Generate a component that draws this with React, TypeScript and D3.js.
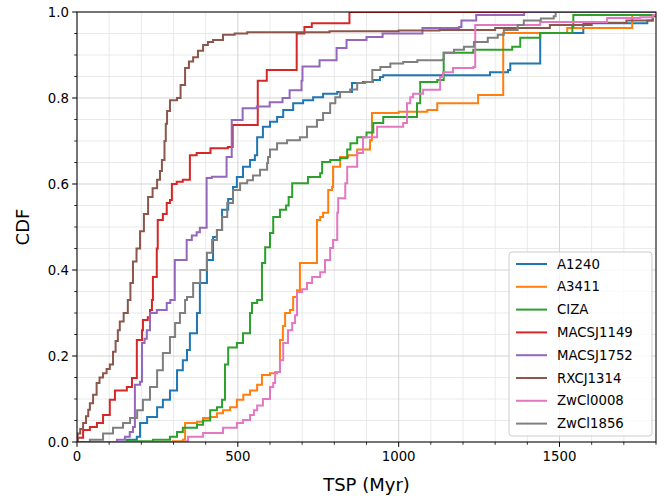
import * as d3 from 'd3'

// cluster names + tab10 colours
const clusters = ['A1240', 'A3411', 'CIZA', 'MACSJ1149', 'MACSJ1752', 'RXCJ1314', 'ZwCl0008', 'ZwCl1856']
const colors = ['#1f77b4', '#ff7f0e', '#2ca02c', '#d62728', '#9467bd', '#8c564b', '#e377c2', '#7f7f7f']

// step CDF vertices: [TSP (Myr), CDF]
const a1240 = [[0,0],[155,0.005],[186,0.012],[196,0.044],[218,0.058],[249,0.081],[267,0.098],[289,0.12],[311,0.167],[329,0.19],[342,0.214],[351,0.253],[373,0.30],[382,0.37],[404,0.423],[423,0.477],[435,0.493],[451,0.54],[470,0.565],[485,0.593],[497,0.616],[516,0.64],[538,0.656],[553,0.667],[560,0.709],[578,0.733],[600,0.745],[622,0.756],[641,0.772],[672,0.788],[703,0.795],[734,0.802],[765,0.81],[809,0.814],[855,0.835],[889,0.837],[920,0.842],[942,0.849],[952,0.853],[1284,0.86],[1340,0.865],[1347,0.88],[1440,0.951],[1574,0.974],[1773,0.98],[1790,0.993],[1850,0.993]]
const a3411 = [[0,0],[298,0.002],[329,0.005],[336,0.044],[373,0.047],[392,0.056],[414,0.058],[435,0.067],[454,0.074],[476,0.081],[497,0.098],[517,0.11],[538,0.12],[560,0.133],[575,0.156],[600,0.16],[622,0.163],[631,0.237],[640,0.27],[647,0.30],[662,0.307],[672,0.337],[684,0.353],[693,0.416],[746,0.516],[756,0.523],[765,0.533],[781,0.586],[793,0.593],[796,0.64],[818,0.663],[843,0.667],[871,0.68],[911,0.702],[917,0.765],[1000,0.768],[1089,0.772],[1120,0.788],[1247,0.807],[1325,0.951],[1524,0.963],[1726,0.993],[1850,1.0]]
const ciza = [[0,0],[155,0.002],[236,0.005],[289,0.012],[311,0.023],[329,0.033],[373,0.04],[392,0.05],[414,0.074],[435,0.081],[451,0.098],[460,0.18],[470,0.22],[497,0.23],[516,0.253],[538,0.30],[544,0.323],[560,0.33],[575,0.416],[585,0.453],[600,0.486],[610,0.523],[631,0.54],[650,0.55],[658,0.57],[669,0.602],[718,0.616],[756,0.625],[762,0.651],[787,0.656],[818,0.66],[840,0.68],[850,0.695],[871,0.709],[900,0.72],[921,0.742],[952,0.756],[1057,0.788],[1067,0.837],[1120,0.842],[1140,0.905],[1232,0.912],[1353,0.919],[1378,0.94],[1440,0.951],[1540,0.965],[1543,0.993],[1850,1.0]]
const macsj1149 = [[0,0],[2,0.01],[19,0.028],[40,0.035],[62,0.044],[81,0.063],[102,0.098],[118,0.12],[155,0.128],[171,0.149],[186,0.237],[202,0.26],[205,0.284],[220,0.29],[227,0.307],[233,0.33],[236,0.384],[248,0.45],[251,0.516],[267,0.53],[279,0.556],[289,0.563],[295,0.60],[310,0.605],[329,0.61],[351,0.667],[372,0.672],[415,0.683],[469,0.686],[484,0.737],[562,0.84],[590,0.865],[683,0.95],[707,0.965],[730,0.974],[847,1.0],[1850,1.0]]
const macsj1752 = [[0,0],[124,0.005],[149,0.012],[164,0.023],[174,0.035],[180,0.133],[196,0.14],[202,0.23],[210,0.24],[217,0.26],[227,0.30],[248,0.307],[279,0.323],[290,0.33],[304,0.423],[341,0.47],[357,0.48],[372,0.488],[382,0.498],[403,0.614],[419,0.617],[465,0.663],[481,0.749],[515,0.776],[559,0.78],[599,0.79],[639,0.80],[661,0.818],[698,0.84],[701,0.873],[754,0.888],[807,0.916],[838,0.935],[900,0.942],[950,0.95],[1074,0.963],[1188,0.965],[1195,0.98],[1241,0.993],[1390,1.0],[1850,1.0]]
const rxcj1314 = [[0,0],[2,0.02],[10,0.03],[19,0.044],[28,0.06],[35,0.075],[40,0.09],[50,0.11],[61,0.137],[70,0.15],[81,0.16],[92,0.17],[102,0.18],[112,0.21],[120,0.235],[127,0.26],[133,0.28],[145,0.30],[158,0.33],[166,0.37],[174,0.42],[185,0.45],[196,0.49],[208,0.53],[221,0.57],[235,0.59],[249,0.61],[258,0.63],[264,0.656],[272,0.70],[276,0.74],[280,0.77],[289,0.795],[311,0.80],[322,0.83],[336,0.87],[348,0.885],[361,0.895],[376,0.91],[392,0.923],[407,0.93],[423,0.935],[454,0.947],[490,0.95],[529,0.953],[785,0.955],[1000,0.957],[1127,0.958],[1300,0.963],[1470,0.97],[1600,0.975],[1708,0.98],[1790,0.99],[1850,0.99]]
const zwcl0008 = [[0,0],[342,0.002],[345,0.012],[392,0.021],[454,0.033],[497,0.044],[516,0.051],[538,0.063],[550,0.074],[560,0.085],[578,0.10],[600,0.128],[610,0.137],[616,0.163],[631,0.19],[641,0.23],[656,0.26],[669,0.277],[678,0.295],[684,0.349],[700,0.355],[715,0.37],[731,0.384],[756,0.395],[771,0.423],[787,0.451],[796,0.47],[809,0.533],[812,0.567],[834,0.602],[840,0.64],[871,0.672],[889,0.709],[933,0.733],[1014,0.742],[1026,0.788],[1036,0.802],[1045,0.81],[1076,0.819],[1129,0.849],[1138,0.86],[1169,0.87],[1232,0.872],[1238,0.97],[1440,0.977],[1648,0.986],[1751,0.988],[1791,0.993],[1850,0.993]]
const zwcl1856 = [[0,0],[40,0.005],[81,0.02],[112,0.033],[143,0.044],[165,0.056],[187,0.074],[205,0.098],[227,0.128],[249,0.167],[267,0.207],[289,0.244],[305,0.277],[320,0.30],[336,0.33],[342,0.337],[361,0.37],[383,0.40],[404,0.44],[420,0.47],[435,0.493],[451,0.523],[467,0.556],[485,0.586],[507,0.602],[529,0.609],[547,0.62],[569,0.633],[591,0.649],[594,0.663],[600,0.68],[622,0.695],[653,0.702],[693,0.709],[715,0.733],[746,0.749],[765,0.765],[787,0.788],[803,0.802],[818,0.814],[849,0.82],[871,0.835],[896,0.837],[918,0.865],[943,0.872],[974,0.88],[1014,0.884],[1058,0.888],[1138,0.89],[1140,0.905],[1172,0.912],[1203,0.919],[1234,0.93],[1277,0.94],[1308,0.947],[1327,0.958],[1370,0.97],[1389,0.98],[1442,0.985],[1482,0.99],[1488,1.0],[1850,1.0]]

const seriesData = [a1240, a3411, ciza, macsj1149, macsj1752, rxcj1314, zwcl0008, zwcl1856]

const xMajor = [0, 500, 1000, 1500]
const yMajor = [0, 0.2, 0.4, 0.6, 0.8, 1.0]

const W = 664
const H = 496
const margin = { top: 12, right: 8, bottom: 54, left: 77 }
const font = 'DejaVu Sans, sans-serif'

export default function App() {
  const innerW = W - margin.left - margin.right
  const innerH = H - margin.top - margin.bottom

  const x = d3.scaleLinear().domain([0, 1800]).range([0, innerW])
  const y = d3.scaleLinear().domain([0, 1]).range([innerH, 0])

  const xMinor = d3.range(0, 1801, 100).filter(v => !xMajor.includes(v))
  const yMinor = d3.range(0, 21).map(i => i * 0.05).filter(v => !yMajor.some(m => Math.abs(m - v) < 1e-6))

  const line = d3.line<number[]>()
    .x(d => x(d[0]))
    .y(d => y(d[1]))
    .curve(d3.curveStepAfter)

  // legend geometry
  const lgX = 509 - margin.left
  const lgY = 252 - margin.top
  const lgRow = 22.8

  return (
    <div style={{ position: 'absolute', left: 0, top: 0 }}>
      <svg width={W} height={H} style={{ display: 'block', background: '#fff' }} fontFamily={font}>
        <defs>
          <clipPath id="plot-clip">
            <rect x={0} y={0} width={innerW} height={innerH} />
          </clipPath>
        </defs>
        <g transform={`translate(${margin.left},${margin.top})`}>
          {/* minor grid */}
          {xMinor.map(v => (
            <line key={'xm' + v} x1={x(v)} x2={x(v)} y1={0} y2={innerH} stroke="#e6e6e6" strokeWidth={0.9} />
          ))}
          {yMinor.map(v => (
            <line key={'ym' + v} x1={0} x2={innerW} y1={y(v)} y2={y(v)} stroke="#e6e6e6" strokeWidth={0.9} />
          ))}
          {/* major grid */}
          {xMajor.map(v => (
            <line key={'xM' + v} x1={x(v)} x2={x(v)} y1={0} y2={innerH} stroke="#d3d3d3" strokeWidth={1} />
          ))}
          {yMajor.map(v => (
            <line key={'yM' + v} x1={0} x2={innerW} y1={y(v)} y2={y(v)} stroke="#d3d3d3" strokeWidth={1} />
          ))}

          {/* cdf steps */}
          <g clipPath="url(#plot-clip)">
            {seriesData.map((s, i) => (
              <path key={clusters[i]} d={line(s) || ''} fill="none" stroke={colors[i]} strokeWidth={2} />
            ))}
          </g>

          {/* frame */}
          <rect x={0} y={0} width={innerW} height={innerH} fill="none" stroke="#000" strokeWidth={1} />

          {/* x ticks */}
          {xMinor.map(v => (
            <line key={'xt' + v} x1={x(v)} x2={x(v)} y1={innerH} y2={innerH + 2.8} stroke="#000" strokeWidth={0.8} />
          ))}
          {xMajor.map(v => (
            <g key={'xT' + v} transform={`translate(${x(v)},${innerH})`}>
              <line y1={0} y2={4.9} stroke="#000" strokeWidth={1} />
              <text y={19} textAnchor="middle" fontSize={13.3} fill="#000">{v}</text>
            </g>
          ))}
          {/* y ticks */}
          {yMinor.map(v => (
            <line key={'yt' + v} x1={-2.8} x2={0} y1={y(v)} y2={y(v)} stroke="#000" strokeWidth={0.8} />
          ))}
          {yMajor.map(v => (
            <g key={'yT' + v} transform={`translate(0,${y(v)})`}>
              <line x1={-4.9} x2={0} stroke="#000" strokeWidth={1} />
              <text x={-8} dy="0.35em" textAnchor="end" fontSize={13.3} fill="#000">{v.toFixed(1)}</text>
            </g>
          ))}

          {/* legend */}
          <rect x={lgX} y={lgY} width={143} height={184} rx={3} fill="#fff" fillOpacity={0.8} stroke="#cccccc" strokeWidth={1} />
          {clusters.map((c, i) => (
            <g key={'lg' + c} transform={`translate(${lgX},${lgY + 12 + i * lgRow})`}>
              <line x1={7} x2={38} y1={0} y2={0} stroke={colors[i]} strokeWidth={2} />
              <text x={48} dy="0.35em" fontSize={13.3} fill="#000">{c}</text>
            </g>
          ))}
        </g>

        {/* axis labels */}
        <text x={margin.left + innerW / 2} y={491} textAnchor="middle" fontSize={18} fill="#000">TSP (Myr)</text>
        <text transform={`translate(29,${margin.top + innerH / 2}) rotate(-90)`} textAnchor="middle" fontSize={18} fill="#000">CDF</text>
      </svg>
    </div>
  )
}
